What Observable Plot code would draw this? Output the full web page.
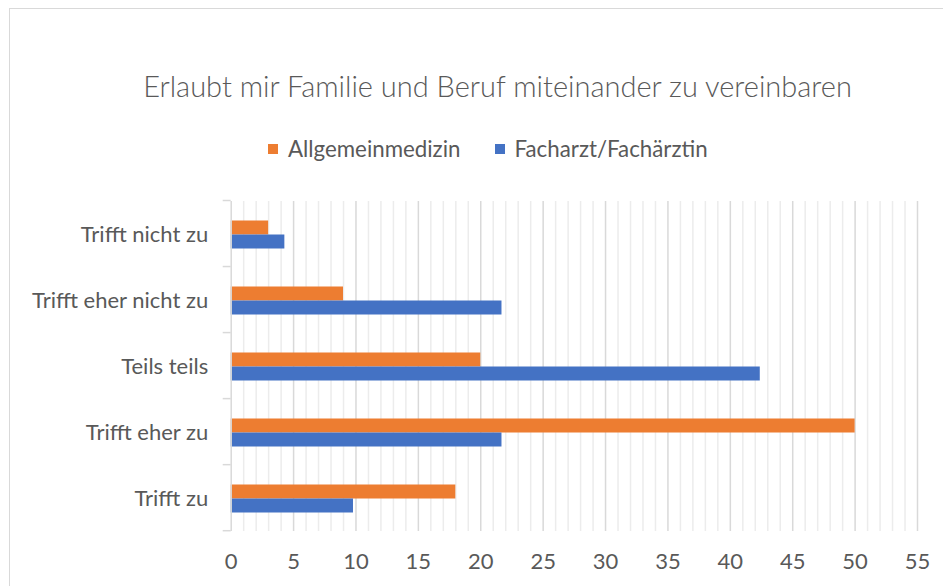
<!DOCTYPE html>
<html><head><meta charset="utf-8">
<script src="https://cdn.jsdelivr.net/npm/d3@7"></script>
<script src="https://cdn.jsdelivr.net/npm/@observablehq/plot@0.6"></script>
<style>
body{margin:0;background:#fff;}
#wrap{position:relative;width:943px;height:586px;overflow:hidden;font-family:Lato,sans-serif;color:#595959;}
#frame{position:absolute;left:9px;top:8px;width:1000px;height:1000px;border:1.5px solid #d9d9d9;box-sizing:border-box;}
#title{position:absolute;left:0;width:995px;top:68px;text-align:center;font-size:29px;font-weight:300;white-space:nowrap;}
#legend{position:absolute;left:268px;top:135px;display:flex;align-items:center;font-size:22.3px;white-space:nowrap;}
.sw{display:inline-block;width:10px;height:10px;margin-right:10px;}
.item{display:flex;align-items:center;margin-right:34px;}
#chart{position:absolute;left:0;top:0;}
</style></head>
<body><div id="wrap"><div id="frame"></div><div id="title"></div><div id="legend"></div><div id="chart"></div></div>
<script>
const titleText = "Erlaubt mir Familie und Beruf miteinander zu vereinbaren";
const categories = ["Trifft nicht zu","Trifft eher nicht zu","Teils teils","Trifft eher zu","Trifft zu"];
const series = ["Allgemeinmedizin","Facharzt/Fachärztin"];
const allgemeinValues = [3, 9, 20, 50, 18];
const facharztValues = [4.3, 21.7, 42.4, 21.7, 9.8];
const xTicks = [0,5,10,15,20,25,30,35,40,45,50,55];
const colors = ["#ED7D31","#4472C4"];

const data = [];
categories.forEach((c,i)=>{
  data.push({category:c, series:series[0], value:allgemeinValues[i]});
  data.push({category:c, series:series[1], value:facharztValues[i]});
});
const minorGrid = d3.range(1,56).filter(v=>v%5!==0);
const majorGrid = xTicks.filter(v=>v>0);

document.getElementById("title").textContent = titleText;
const leg = document.getElementById("legend");
series.forEach((s,i)=>{
  const it = document.createElement("span"); it.className="item";
  const sw = document.createElement("span"); sw.className="sw"; sw.style.background=colors[i];
  it.appendChild(sw); it.appendChild(document.createTextNode(s)); leg.appendChild(it);
});

const plot = Plot.plot({
  width:943, height:586,
  marginTop:200.5, marginBottom:55.3, marginLeft:230.7, marginRight:26,
  style:{fontFamily:"Lato, sans-serif", fontSize:"22px", color:"#595959", background:"transparent", overflow:"visible"},
  x:{domain:[0,55], ticks:xTicks, tickSize:0, tickPadding:22, label:null},
  y:{domain:series, axis:null, paddingInner:0, paddingOuter:1.357},
  fy:{domain:categories, padding:0, axis:"left", label:null, tickSize:0, tickPadding:23},
  color:{domain:series, range:colors},
  marks:[
    Plot.ruleX(minorGrid, {stroke:"#ececec", strokeWidth:1.5}),
    Plot.ruleX(majorGrid, {stroke:"#d9d9d9", strokeWidth:1.5}),
    Plot.barX(data, {x:"value", y:"series", fy:"category", fill:"series"}),
    Plot.ruleX([0], {stroke:"#d9d9d9", strokeWidth:1.5})
  ]
});
document.getElementById("chart").appendChild(plot);

// category boundary tick marks on the y axis
const fyS = plot.scale("fy"), xS = plot.scale("x");
const band = d3.scaleBand().domain(fyS.domain).range(fyS.range).padding(0);
const bounds = fyS.domain.map(d=>band(d)).concat([band(fyS.domain[fyS.domain.length-1])+band.bandwidth()]);
const x0 = xS.apply(0);
d3.select(plot).append("g").selectAll("line").data(bounds).join("line")
  .attr("x1", x0-8).attr("x2", x0).attr("y1", d=>d).attr("y2", d=>d)
  .attr("stroke","#d9d9d9").attr("stroke-width",1.5);
</script></body></html>
